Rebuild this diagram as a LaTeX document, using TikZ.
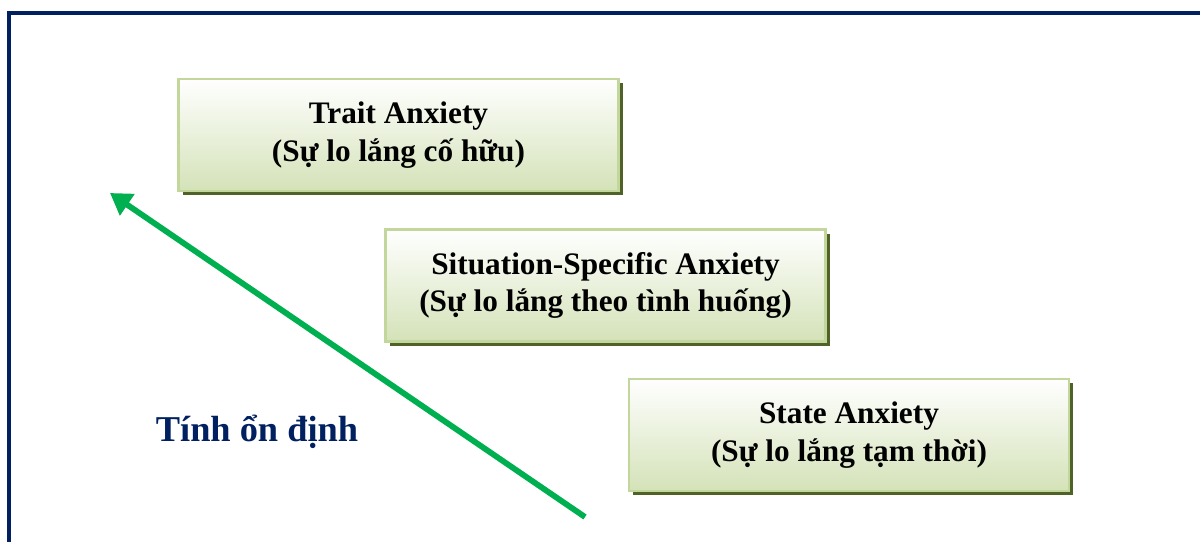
\documentclass[tikz,border=0pt]{standalone}
\usepackage{fontspec}
\setmainfont{Liberation Serif}
\usepackage{tikz}
\usetikzlibrary{arrows.meta}
\usetikzlibrary{shadows}
\usepackage{xcolor}
\definecolor{navyblue}{HTML}{002060}
\definecolor{boxedge}{HTML}{C3D69B}
\definecolor{boxlow}{HTML}{D4E2B8}
\definecolor{boxshade}{HTML}{4F6228}
\definecolor{arrowgreen}{HTML}{00B050}

\begin{document}
\begin{tikzpicture}[scale=1]
        % ================= styles =================
        \tikzset{
            % boxes: light green border, white-to-green gradient, dark olive shadow
            levelbox/.style={rectangle, draw=boxedge, line width=1.3pt, top color=white, bottom color=boxlow,
                minimum width=8.8cm, minimum height=2.24cm, align=center, inner sep=2pt,
                font=\fontsize{17.8}{21.5}\selectfont\bfseries,
                drop shadow={fill=boxshade, opacity=1, shadow xshift=0.08cm, shadow yshift=-0.08cm}},
            frame/.style={navyblue, line width=2.3pt},
            growarrow/.style={arrowgreen, line width=3.3pt, -{Triangle[length=0.42cm, width=0.5cm]}},
            axislabel/.style={navyblue, font=\fontsize{20.7}{25}\selectfont\bfseries}
        }

        % 1. page size and outer frame (left and top edges only show)
        \useasboundingbox (0,0) rectangle (24,10.82);
        \draw[frame] (0.18,-1) |- (25,10.56);

        % 2. the three levels, stepping down to the right
        \node[levelbox] (trait) at (7.97,8.12)  {Trait Anxiety\\(Sự lo lắng cố hữu)};
        \node[levelbox] (situ)  at (12.11,5.11) {Situation-Specific Anxiety\\(Sự lo lắng theo tình huống)};
        \node[levelbox] (state) at (16.98,2.12) {State Anxiety\\(Sự lo lắng tạm thời)};

        % 3. stability arrow (bottom right -> top left)
        \coordinate (arrtail) at (11.7,0.48);
        \coordinate (arrtip)  at (2.2,6.96);
        \draw[growarrow] (arrtail) -- (arrtip);

        % 4. label
        \node[axislabel] (stab) at (5.14,2.18) {Tính ổn định};

    \end{tikzpicture}
\end{document}
